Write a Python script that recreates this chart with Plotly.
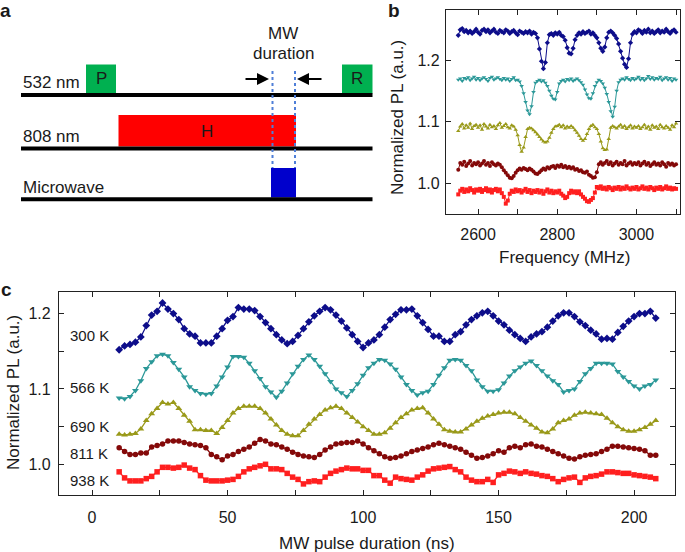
import plotly.graph_objects as go

W, H = 685, 552
FONT = "Liberation Sans, Arial, sans-serif"
TXT = "#1a1a1a"

# ---------------- Panel c data (Rabi oscillations) ----------------
pulse_ns = list(range(10, 210, 2))  # 10..208 ns

pl_300K = [1.152,1.157,1.159,1.162,1.169,1.184,1.198,1.203,1.214,1.206,
           1.200,1.192,1.180,1.173,1.170,1.161,1.161,1.161,1.170,1.180,
           1.191,1.196,1.208,1.206,1.206,1.204,1.196,1.188,1.180,1.172,
           1.165,1.160,1.163,1.171,1.180,1.189,1.197,1.203,1.208,1.205,
           1.198,1.190,1.181,1.172,1.163,1.155,1.161,1.165,1.172,1.182,
           1.192,1.199,1.205,1.205,1.206,1.197,1.188,1.179,1.170,1.170,
           1.163,1.163,1.172,1.176,1.185,1.192,1.197,1.201,1.203,1.197,
           1.190,1.185,1.178,1.172,1.167,1.163,1.169,1.173,1.176,1.182,
           1.190,1.197,1.201,1.201,1.196,1.189,1.184,1.178,1.173,1.166,
           1.167,1.166,1.175,1.183,1.190,1.196,1.200,1.200,1.203,1.194]
pl_566K = [1.088,1.087,1.090,1.098,1.111,1.127,1.136,1.144,1.146,1.144,
           1.135,1.126,1.116,1.103,1.098,1.094,1.093,1.094,1.104,1.116,
           1.129,1.143,1.143,1.142,1.134,1.124,1.114,1.103,1.096,1.089,
           1.097,1.108,1.120,1.130,1.139,1.145,1.139,1.130,1.120,1.110,
           1.100,1.095,1.090,1.098,1.107,1.118,1.128,1.134,1.139,1.138,
           1.133,1.126,1.116,1.106,1.098,1.092,1.095,1.097,1.106,1.118,
           1.128,1.138,1.139,1.138,1.131,1.124,1.112,1.103,1.097,1.097,
           1.099,1.108,1.117,1.124,1.129,1.134,1.137,1.131,1.124,1.117,
           1.111,1.106,1.096,1.098,1.100,1.110,1.120,1.127,1.134,1.134,
           1.134,1.133,1.123,1.116,1.110,1.104,1.100,1.104,1.106,1.112]
pl_690K = [1.040,1.039,1.040,1.041,1.047,1.058,1.067,1.074,1.082,1.080,
           1.082,1.074,1.065,1.057,1.046,1.046,1.045,1.045,1.041,1.049,
           1.058,1.068,1.074,1.077,1.077,1.077,1.074,1.068,1.060,1.052,
           1.045,1.040,1.038,1.038,1.045,1.053,1.060,1.066,1.072,1.075,
           1.077,1.074,1.068,1.062,1.056,1.050,1.045,1.040,1.040,1.042,
           1.048,1.055,1.062,1.067,1.072,1.074,1.075,1.068,1.060,1.053,
           1.046,1.044,1.043,1.043,1.047,1.052,1.057,1.061,1.064,1.066,
           1.068,1.069,1.069,1.067,1.062,1.057,1.052,1.048,1.043,1.042,
           1.047,1.055,1.058,1.060,1.065,1.068,1.069,1.068,1.067,1.066,
           1.061,1.055,1.050,1.046,1.044,1.044,1.046,1.049,1.053,1.058]
pl_811K = [1.022,1.017,1.013,1.013,1.015,1.015,1.023,1.025,1.027,1.031,
           1.031,1.031,1.029,1.027,1.026,1.025,1.022,1.013,1.010,1.006,
           1.011,1.013,1.017,1.020,1.023,1.028,1.033,1.031,1.027,1.026,
           1.023,1.020,1.016,1.013,1.011,1.010,1.009,1.013,1.019,1.023,
           1.027,1.028,1.029,1.029,1.031,1.027,1.022,1.018,1.014,1.010,
           1.008,1.009,1.011,1.014,1.017,1.019,1.021,1.023,1.026,1.028,
           1.026,1.024,1.022,1.020,1.016,1.012,1.008,1.009,1.011,1.014,
           1.018,1.016,1.022,1.024,1.022,1.026,1.027,1.024,1.023,1.020,
           1.017,1.014,1.011,1.008,1.007,1.010,1.012,1.013,1.014,1.017,
           1.020,1.024,1.024,1.023,1.022,1.021,1.020,1.018,1.012,1.012]
pl_938K = [0.990,0.982,0.978,0.978,0.978,0.981,0.984,0.990,0.996,0.996,
           0.995,0.996,0.999,0.995,0.993,0.985,0.979,0.978,0.978,0.978,
           0.979,0.980,0.984,0.990,0.994,0.996,0.998,1.000,0.994,0.994,
           0.993,0.988,0.983,0.980,0.974,0.977,0.978,0.977,0.983,0.988,
           0.991,0.993,0.995,0.994,0.994,0.992,0.992,0.985,0.985,0.979,
           0.975,0.983,0.981,0.980,0.979,0.983,0.986,0.991,0.994,0.995,
           0.996,0.997,0.993,0.990,0.983,0.979,0.977,0.977,0.980,0.976,
           0.986,0.988,0.991,0.990,0.988,0.990,0.988,0.987,0.985,0.984,
           0.981,0.977,0.980,0.982,0.983,0.976,0.982,0.984,0.985,0.987,
           0.990,0.990,0.989,0.988,0.988,0.986,0.985,0.984,0.983,0.981]

# ---------------- Panel b data (ODMR spectra) ----------------
freq_mhz = list(range(2550, 3105, 5))  # 2550..3100 MHz

odmr_300K = [1.240,1.249,1.251,1.246,1.248,1.244,1.247,1.243,1.246,1.250,
             1.245,1.242,1.248,1.250,1.246,1.249,1.244,1.247,1.250,1.245,
             1.243,1.248,1.246,1.244,1.249,1.247,1.243,1.246,1.248,1.244,
             1.241,1.247,1.245,1.243,1.246,1.244,1.247,1.242,1.245,1.243,
             1.236,1.218,1.198,1.186,1.196,1.228,1.241,1.243,1.240,1.244,
             1.242,1.245,1.240,1.238,1.232,1.220,1.211,1.210,1.219,1.233,
             1.240,1.244,1.242,1.246,1.243,1.245,1.247,1.242,1.244,1.240,
             1.236,1.228,1.219,1.214,1.221,1.236,1.245,1.247,1.244,1.240,
             1.235,1.226,1.214,1.203,1.193,1.188,1.202,1.228,1.242,1.246,
             1.244,1.249,1.247,1.243,1.248,1.245,1.250,1.244,1.247,1.243,
             1.246,1.249,1.244,1.247,1.245,1.250,1.246,1.243,1.247,1.249,
             1.245]
odmr_566K = [1.168,1.170,1.166,1.171,1.169,1.172,1.167,1.170,1.173,1.168,
             1.171,1.167,1.170,1.172,1.169,1.166,1.171,1.173,1.168,1.170,
             1.172,1.169,1.167,1.171,1.168,1.170,1.166,1.169,1.172,1.167,
             1.168,1.165,1.158,1.146,1.132,1.118,1.112,1.125,1.148,1.163,
             1.166,1.168,1.165,1.167,1.163,1.158,1.150,1.142,1.137,1.136,
             1.148,1.162,1.166,1.168,1.165,1.169,1.167,1.170,1.166,1.168,
             1.170,1.167,1.164,1.160,1.152,1.144,1.138,1.137,1.146,1.158,
             1.164,1.168,1.166,1.162,1.155,1.145,1.132,1.117,1.108,1.124,
             1.150,1.164,1.168,1.170,1.168,1.172,1.169,1.167,1.171,1.168,
             1.170,1.173,1.168,1.171,1.167,1.170,1.174,1.169,1.172,1.168,
             1.171,1.169,1.173,1.167,1.170,1.172,1.168,1.171,1.166,1.170,
             1.168]
odmr_690K = [1.085,1.092,1.096,1.089,1.094,1.090,1.097,1.088,1.093,1.095,
             1.090,1.094,1.087,1.096,1.092,1.089,1.095,1.091,1.093,1.088,
             1.094,1.098,1.090,1.093,1.096,1.091,1.089,1.094,1.092,1.087,
             1.078,1.062,1.051,1.058,1.075,1.088,1.090,1.089,1.086,1.083,
             1.079,1.075,1.071,1.068,1.066,1.068,1.074,1.082,1.088,1.092,
             1.093,1.095,1.091,1.094,1.089,1.092,1.090,1.093,1.090,1.086,
             1.082,1.077,1.072,1.069,1.072,1.080,1.088,1.093,1.095,1.091,
             1.088,1.080,1.068,1.057,1.054,1.055,1.072,1.090,1.093,1.091,
             1.089,1.092,1.095,1.090,1.093,1.088,1.091,1.094,1.089,1.092,
             1.090,1.093,1.088,1.091,1.095,1.089,1.092,1.087,1.094,1.090,
             1.092,1.088,1.095,1.091,1.089,1.093,1.090,1.087,1.094,1.091,
             1.097]
odmr_811K = [1.022,1.033,1.030,1.035,1.028,1.032,1.036,1.029,1.033,1.031,
             1.034,1.029,1.032,1.036,1.030,1.033,1.028,1.034,1.031,1.029,
             1.032,1.030,1.026,1.021,1.017,1.013,1.009,1.008,1.012,1.017,
             1.021,1.024,1.022,1.025,1.023,1.021,1.024,1.022,1.019,1.016,
             1.015,1.018,1.021,1.024,1.022,1.026,1.024,1.027,1.028,1.025,
             1.029,1.027,1.030,1.026,1.028,1.025,1.027,1.024,1.026,1.022,
             1.023,1.020,1.021,1.018,1.017,1.019,1.014,1.012,1.009,1.010,
             1.018,1.031,1.034,1.030,1.033,1.036,1.031,1.034,1.029,1.032,
             1.035,1.030,1.033,1.031,1.036,1.029,1.032,1.034,1.030,1.033,
             1.031,1.034,1.029,1.032,1.035,1.030,1.033,1.028,1.031,1.034,
             1.030,1.032,1.029,1.034,1.031,1.027,1.033,1.030,1.032,1.029,
             1.031]
odmr_938K = [0.982,0.988,0.991,0.986,0.990,0.987,0.992,0.989,0.985,0.990,
             0.988,0.991,0.986,0.989,0.992,0.987,0.990,0.985,0.989,0.991,
             0.987,0.990,0.984,0.978,0.967,0.972,0.983,0.988,0.986,0.990,
             0.987,0.989,0.985,0.988,0.991,0.986,0.989,0.984,0.988,0.986,
             0.989,0.985,0.988,0.983,0.987,0.990,0.985,0.988,0.984,0.987,
             0.985,0.988,0.983,0.980,0.976,0.978,0.984,0.988,0.985,0.987,
             0.984,0.987,0.982,0.978,0.975,0.971,0.970,0.973,0.976,0.985,
             0.994,0.992,0.995,0.991,0.993,0.990,0.994,0.992,0.989,0.993,
             0.991,0.994,0.990,0.993,0.991,0.995,0.992,0.990,0.993,0.991,
             0.994,0.990,0.992,0.995,0.991,0.993,0.990,0.994,0.992,0.989,
             0.993,0.991,0.994,0.990,0.992,0.995,0.991,0.993,0.990,0.992,
             0.991]

temps = ["300 K", "566 K", "690 K", "811 K", "938 K"]
colors = ["#0d0d8a", "#2b9898", "#999919", "#840909", "#ff1f1f"]
symbols = ["diamond", "triangle-down", "triangle-up", "circle", "square"]
rabi = [pl_300K, pl_566K, pl_690K, pl_811K, pl_938K]
odmr = [odmr_300K, odmr_566K, odmr_690K, odmr_811K, odmr_938K]
c_label_y = [335, 387, 426, 453, 480]  # pixel rows of temperature labels

def PX(x):
    return x / W

def PY(y):
    return 1 - y / H

fig = go.Figure()

msize_c = [6, 6, 6, 5.5, 5.5]
for vals, col, sym in zip(odmr, colors, symbols):
    fig.add_trace(go.Scatter(x=freq_mhz, y=vals, mode="lines+markers",
                             line=dict(color=col, width=1),
                             marker=dict(symbol=sym, size=4, color=col),
                             xaxis="x", yaxis="y", showlegend=False))
for vals, col, sym, ms in zip(rabi, colors, symbols, msize_c):
    fig.add_trace(go.Scatter(x=pulse_ns, y=vals, mode="lines+markers",
                             line=dict(color=col, width=1.3),
                             marker=dict(symbol=sym, size=ms, color=col),
                             xaxis="x2", yaxis="y2", showlegend=False))

axis_common = dict(showline=True, linecolor="#222", linewidth=1.3, mirror="ticks",
                   ticks="inside", ticklen=5, tickwidth=1, tickcolor="#222",
                   showgrid=False, zeroline=False,
                   tickfont=dict(family=FONT, size=16, color=TXT))

fig.update_layout(
    width=W, height=H, autosize=False,
    margin=dict(l=0, r=0, t=0, b=0),
    paper_bgcolor="white", plot_bgcolor="white",
    font=dict(family=FONT, color=TXT),
    xaxis=dict(domain=[PX(446), PX(680)], range=[2519, 3110], anchor="y",
               tickvals=[2600, 2800, 3000],
               minor=dict(tickvals=[2700, 2900, 3100], ticks="inside", ticklen=5,
                          tickcolor="#222"),
               ticklabelstandoff=6, **axis_common),
    yaxis=dict(domain=[PY(214), PY(10)], range=[0.9502, 1.2811], anchor="x",
               tickvals=[1.0, 1.1, 1.2], ticktext=["1.0", "1.1", "1.2"],
               ticklabelstandoff=2, **axis_common),
    xaxis2=dict(domain=[PX(59), PX(675)], range=[-12.2, 215.1], anchor="y2",
                tickvals=[0, 50, 100, 150, 200],
                minor=dict(tickvals=[25, 75, 125, 175], ticks="inside", ticklen=5,
                           tickcolor="#222"),
                ticklabelstandoff=8, **axis_common),
    yaxis2=dict(domain=[PY(495), PY(292)], range=[0.9593, 1.2286], anchor="x2",
                tickvals=[1.0, 1.1, 1.2], ticktext=["1.0", "1.1", "1.2"],
                minor=dict(tickvals=[1.05, 1.15], ticks="inside", ticklen=5,
                           tickcolor="#222"),
                ticklabelstandoff=4, **axis_common),
)

ann = []
def text(x, y, s, size=17, xanchor="center", bold=False, angle=0):
    ann.append(dict(x=PX(x), y=PY(y), xref="paper", yref="paper",
                    text=("<b>" + s + "</b>") if bold else s,
                    showarrow=False, xanchor=xanchor, yanchor="middle",
                    textangle=angle, borderpad=0,
                    font=dict(family=FONT, size=size, color=TXT)))

# panel letters
text(5, 11, "a", size=19, bold=True)
text(394, 11, "b", size=19, bold=True)
text(6, 289, "c", size=19, bold=True)

# axis titles
text(397, 118, "Normalized PL (a.u.)", size=17, angle=-90)
text(564, 257, "Frequency (MHz)", size=17)
text(13, 393, "Normalized PL (a.u.)", size=17, angle=-90)
text(367, 543, "MW pulse duration (ns)", size=17)

# temperature labels
for lab, yy in zip(temps, c_label_y):
    text(69, yy, lab, size=15, xanchor="left")

# ---------------- Panel a: pulse sequence schematic ----------------
shapes = []
def rect(x0, y0, x1, y1, color):
    shapes.append(dict(type="rect", xref="paper", yref="paper",
                       x0=PX(x0), x1=PX(x1), y0=PY(y1), y1=PY(y0),
                       fillcolor=color, line=dict(width=0)))

rect(86, 64.5, 116, 93.5, "#00b050")      # P
rect(342, 64.5, 372.5, 93.5, "#00b050")   # R
rect(118.5, 115, 296, 146.5, "#ff0000")   # H
rect(271, 168, 296, 197.5, "#0000cc")     # MW
for yy in [95, 148.5, 199.3]:
    rect(21, yy - 2, 372.5, yy + 2, "#000000")
for xx in [272.5, 295]:
    shapes.append(dict(type="line", xref="paper", yref="paper",
                       x0=PX(xx), x1=PX(xx), y0=PY(71), y1=PY(168),
                       line=dict(color="#4f7fd8", width=2, dash="dot")))
fig.update_layout(shapes=shapes)

text(101, 79, "P", size=17)
text(357, 79, "R", size=17)
text(207, 131, "H", size=17)
text(22, 82, "532 nm", size=17, xanchor="left")
text(22, 136.5, "808 nm", size=17, xanchor="left")
text(22, 187, "Microwave", size=17, xanchor="left")
text(283, 33, "MW", size=17)
text(283, 53.5, "duration", size=17)

for hx, tail in [(269, -25), (297, 26)]:
    ann.append(dict(x=PX(hx), y=PY(79), xref="paper", yref="paper",
                    ax=tail, ay=0, text="", showarrow=True,
                    arrowhead=2, arrowsize=1.2, arrowwidth=2, arrowcolor="#000"))

fig.update_layout(annotations=ann)
fig.write_html("out.html", config={"displayModeBar": False},
               post_script="document.body.style.margin='0';document.body.style.overflow='hidden';")
